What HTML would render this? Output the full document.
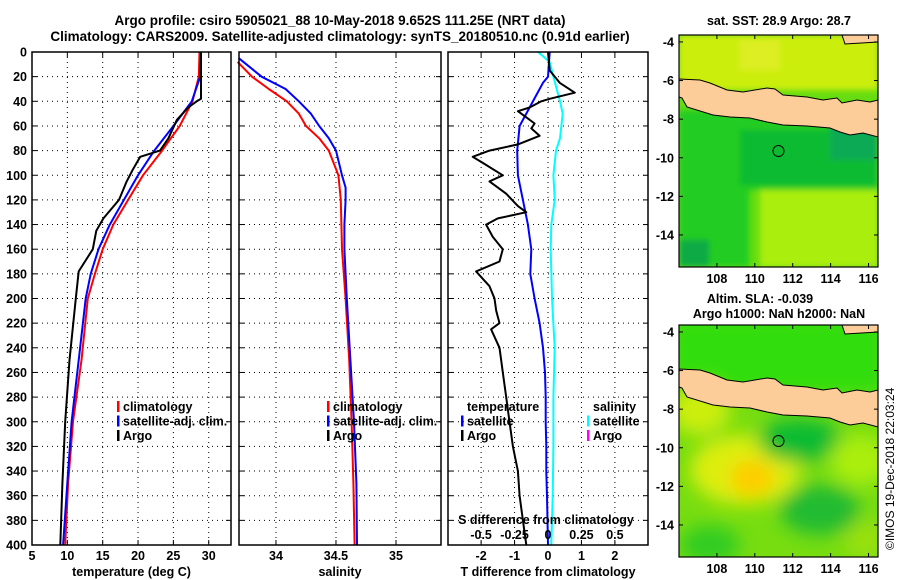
<!DOCTYPE html>
<html><head><meta charset="utf-8">
<style>
body{margin:0;background:#fff;}
svg{display:block;font-family:"Liberation Sans",sans-serif;font-weight:bold;}
text{font-size:12.5px;fill:#000;}
</style></head>
<body>
<svg id="fig" width="900" height="580" viewBox="0 0 900 580" xmlns="http://www.w3.org/2000/svg">
<defs>
<filter id="blur6" x="-20%" y="-20%" width="140%" height="140%"><feGaussianBlur stdDeviation="9"/></filter>
<filter id="blur2"><feGaussianBlur stdDeviation="3"/></filter>
<clipPath id="clipM1"><rect x="679" y="35" width="199" height="232"/></clipPath>
<clipPath id="clipM2"><rect x="679" y="325" width="199" height="232"/></clipPath>
</defs>
<text x="340" y="25" text-anchor="middle" style="font-size:13.5px">Argo profile: csiro 5905021_88 10-May-2018 9.652S 111.25E (NRT data)</text>
<text x="340" y="41" text-anchor="middle" style="font-size:13.5px">Climatology: CARS2009. Satellite-adjusted climatology: synTS_20180510.nc (0.91d earlier)</text>
<g id="panels"></g>
<g id="maps"></g>
<text transform="translate(894,550) rotate(-90)" style="font-size:12px;font-weight:normal">©IMOS 19-Dec-2018 22:03:24</text>
</svg>
<script>
// ---- data ----
const depthTicks = [0,20,40,60,80,100,120,140,160,180,200,220,240,260,280,300,320,340,360,380,400];
const tempTicks = [5,10,15,20,25,30];
const salTicks = [34,34.5,35];
const salTickLabels = ["34","34.5","35"];
const tdiffTicks = [-2,-1,0,1,2];
const sdiffTicks = [-0.5,-0.25,0,0.25,0.5];
const sdiffTickLabels = ["-0.5","-0.25","0","0.25","0.5"];

const climTempDepth = [0,20,40,60,80,100,120,140,160,180,200,250,300,350,400];
const climTemp = [28.7,28.6,27.7,25.9,23.4,20.7,18.6,16.5,15.0,13.9,12.9,12.0,10.8,10.1,9.7];
const satTempDepth = [0,20,40,60,80,100,120,140,160,180,200,250,300,350,400];
const satTemp = [28.9,28.8,27.6,25.0,22.3,20.0,18.0,16.0,14.4,13.3,12.6,11.6,10.6,10.0,9.4];
const argoTempDepth = [0,38,40,45,55,70,80,85,95,105,120,135,145,160,178,200,250,300,350,400];
const argoTemp = [28.9,28.9,28.3,27.1,25.5,24.3,23.1,20.3,19.3,18.4,17.3,15.1,14.1,13.6,11.6,11.2,10.3,9.7,9.3,9.0];

const climSalDepth = [8,20,30,40,50,60,70,80,90,100,120,160,200,250,300,350,400];
const climSal = [33.68,33.80,33.94,34.09,34.19,34.25,34.36,34.44,34.48,34.52,34.54,34.55,34.58,34.61,34.63,34.645,34.655];
const satSalDepth = [5,20,30,40,50,60,70,80,100,110,120,140,160,200,250,300,350,400];
const satSal = [33.69,33.88,34.08,34.19,34.29,34.36,34.44,34.50,34.55,34.58,34.58,34.57,34.57,34.59,34.62,34.65,34.67,34.675];

const satTdiffDepth = [0,20,25,35,50,60,80,100,120,140,160,180,200,220,240,260,280,300,320,340,360,400];
const satTdiff = [0.05,0,-0.15,-0.35,-0.65,-0.85,-0.92,-0.9,-0.75,-0.6,-0.5,-0.53,-0.4,-0.25,-0.15,-0.09,-0.07,-0.07,-0.05,-0.05,-0.03,0];
const argoTdiffDepth = [0,15,25,33,38,40,45,48,53,58,62,68,75,80,85,90,100,105,115,125,130,135,140,150,160,170,178,190,200,210,220,225,240,260,280,300,320,340,360,380,400];
const argoTdiff = [0,0.05,0.35,0.8,0.05,-0.2,-0.55,-0.9,-0.65,-0.4,-0.5,-0.25,-0.9,-1.75,-2.25,-1.95,-1.35,-1.75,-1.25,-0.9,-0.65,-1.5,-1.85,-1.65,-1.35,-1.45,-2.15,-1.75,-1.6,-1.55,-1.45,-1.7,-1.45,-1.35,-1.25,-1.15,-1.05,-0.9,-0.85,-0.75,-0.65];
const satSdiffDepth = [0,8,20,40,50,70,80,100,120,140,160,200,240,280,320,360,400];
const satSdiff = [-0.075,0.012,0.04,0.09,0.11,0.09,0.06,0.04,0.05,0.025,0.02,0.03,0.05,0.04,0.04,0.035,0.025];

const mapLonTicks = [108,110,112,114,116];
const mapLatTicks = [-4,-6,-8,-10,-12,-14];
const argoLon = 111.25, argoLat = -9.652;

// ---- helpers ----
const NS = "http://www.w3.org/2000/svg";
function el(tag, attrs, parent, txt){
  const e = document.createElementNS(NS, tag);
  for (const k in attrs) e.setAttribute(k, attrs[k]);
  if (txt !== undefined) e.textContent = txt;
  parent.appendChild(e);
  return e;
}
const TOP = 52, BOT = 545;
const yD = d => TOP + (BOT - TOP) * d / 400;
const panelsG = document.getElementById('panels');

function makePanel(name, x0, x1, vmin, vmax){
  const g = el('g', {}, panelsG);
  
  
  const sx = v => x0 + (v - vmin) / (vmax - vmin) * (x1 - x0);
  return {g, sx, x0, x1};
}
function grid(p, xt, ylabels){
  depthTicks.forEach(d => {
    const y = yD(d);
    if (d > 0 && d < 400) {
      const ln = el('line', {x1:p.x0, x2:p.x1, y1:y, y2:y, stroke:'#000', 'stroke-width':1, 'stroke-dasharray':'1,4'}, p.g);
      
      
    }
    el('line', {x1:p.x0, x2:p.x0+5, y1:y, y2:y, stroke:'#000'}, p.g);
    el('line', {x1:p.x1-5, x2:p.x1, y1:y, y2:y, stroke:'#000'}, p.g);
    if (ylabels) {
      const t = el('text', {x:27, y:y+4.5, 'text-anchor':'end'}, p.g, String(d));
      
      
    }
  });
  xt.forEach(v => {
    const x = p.sx(v);
    const ln = el('line', {x1:x, x2:x, y1:TOP, y2:BOT, stroke:'#000', 'stroke-width':1, 'stroke-dasharray':'1,4'}, p.g);
    
    
    el('line', {x1:x, x2:x, y1:BOT-5, y2:BOT, stroke:'#000'}, p.g);
    el('line', {x1:x, x2:x, y1:TOP, y2:TOP+5, stroke:'#000'}, p.g);
  });
}
function frame(p){
  const r = el('rect', {x:p.x0, y:TOP, width:p.x1-p.x0, height:BOT-TOP, fill:'none', stroke:'#000', 'stroke-width':1.5}, p.g);
  
  
}
function line(p, depths, vals, color, name, sx){
  const f = sx || p.sx;
  const pts = depths.map((d,i) => f(vals[i]).toFixed(1) + ',' + yD(d).toFixed(1)).join(' ');
  const pl = el('polyline', {points:pts, fill:'none', stroke:color, 'stroke-width':2, 'stroke-linejoin':'round'}, p.g);
  
  
}
function xlabels(p, ticks, labels, y, sx){
  const f = sx || p.sx;
  ticks.forEach((v,i) => {
    const t = el('text', {x:f(v), y:y, 'text-anchor':'middle'}, p.g, labels ? labels[i] : String(v));
    
    
  });
}
function legend(p, x, y, items){
  items.forEach((it, i) => {
    const yy = y + i * 14.5;
    if (it.c) {
      const m = el('rect', {x:x, y:yy-10, width:2.5, height:11, fill:it.c}, p.g);
      
      
    }
    const t = el('text', {x:x+(it.c?6:6), y:yy}, p.g, it.t);
    
    
  });
}
function title(p, txt){
  const t = el('text', {x:(p.x0+p.x1)/2, y:576, 'text-anchor':'middle'}, p.g, txt);
  
  
}

// Panel 1: temperature
const p1 = makePanel('temperature-panel', 32, 231, 5, 33.15);
grid(p1, tempTicks.slice(1), true);
line(p1, climTempDepth, climTemp, '#ff0000', 'climatology-temp-line');
line(p1, satTempDepth, satTemp, '#0000ff', 'satellite-temp-line');
line(p1, argoTempDepth, argoTemp, '#000000', 'argo-temp-line');
frame(p1);
xlabels(p1, tempTicks, null, 560);
title(p1, 'temperature (deg C)');
legend(p1, 117, 411, [{c:'#ff0000',t:'climatology'},{c:'#0000ff',t:'satellite-adj. clim.'},{c:'#000',t:'Argo'}]);

// Panel 2: salinity
const p2 = makePanel('salinity-panel', 239, 441, 33.692, 35.375);
grid(p2, salTicks, false);
line(p2, climSalDepth, climSal, '#ff0000', 'climatology-sal-line');
line(p2, satSalDepth, satSal, '#0000ff', 'satellite-sal-line');
frame(p2);
xlabels(p2, salTicks, salTickLabels, 560);
title(p2, 'salinity');
legend(p2, 327, 411, [{c:'#ff0000',t:'climatology'},{c:'#0000ff',t:'satellite-adj. clim.'},{c:'#000',t:'Argo'}]);

// Panel 3: differences
const p3 = makePanel('difference-panel', 448, 648, -2.99, 2.99);
const sxS = v => p3.sx(v * 4);
grid(p3, tdiffTicks, false);
line(p3, satSdiffDepth, satSdiff, '#00ffff', 'satellite-sal-diff-line', sxS);
line(p3, satTdiffDepth, satTdiff, '#0000ff', 'satellite-temp-diff-line');
line(p3, argoTdiffDepth, argoTdiff, '#000000', 'argo-temp-diff-line');
frame(p3);
xlabels(p3, tdiffTicks, null, 560);
xlabels(p3, sdiffTicks, sdiffTickLabels, 539, sxS);
title(p3, 'T difference from climatology');
{
  const t = el('text', {x:546, y:524, 'text-anchor':'middle'}, p3.g, 'S difference from climatology');
  
  
}
legend(p3, 461, 411, [{c:null,t:'temperature'},{c:'#0000ff',t:'satellite'},{c:'#000',t:'Argo'}]);
legend(p3, 587, 411, [{c:null,t:'salinity'},{c:'#00ffff',t:'satellite'},{c:'#ff00ff',t:'Argo'}]);

// ---- maps ----
const mapsG = document.getElementById('maps');
const javaPts = [[679,79],[700,80],[710,83],[727,90],[743,92],[767,88],[775,89],[783,95],[807,97],[823,100],[837,98],[842,103],[857,100],[870,102],[878,100],[878,137],[863,133],[850,135],[840,132],[830,128],[807,126],[783,125],[767,122],[750,118],[730,117],[713,115],[687,107],[682,98],[679,97]];
function makeMap(name, oy, titleLines){
  const g = el('g', {}, mapsG);
  
  
  const x0 = 679, x1 = 878, y0 = oy, y1 = oy + 232;
  const sx = lon => x0 + (lon - 106.0) / (116.5 - 106.0) * (x1 - x0);
  const sy = lat => y0 + (-3.64 - lat) / (15.66 - 3.64) * (y1 - y0);
  return {g, x0, x1, y0, y1, sx, sy, oy};
}
function mapAxes(m, titleLines){
  const r = el('rect', {x:m.x0, y:m.y0, width:m.x1-m.x0, height:m.y1-m.y0, fill:'none', stroke:'#000', 'stroke-width':1.2}, m.g);
  
  
  mapLatTicks.forEach(la => {
    const y = m.sy(la);
    el('line', {x1:m.x0, x2:m.x0+4, y1:y, y2:y, stroke:'#000'}, m.g);
    el('line', {x1:m.x1-4, x2:m.x1, y1:y, y2:y, stroke:'#000'}, m.g);
    const t = el('text', {x:m.x0-5, y:y+4.5, 'text-anchor':'end'}, m.g, String(la));
    
    
  });
  mapLonTicks.forEach(lo => {
    const x = m.sx(lo);
    el('line', {x1:x, x2:x, y1:m.y1-4, y2:m.y1, stroke:'#000'}, m.g);
    el('line', {x1:x, x2:x, y1:m.y0, y2:m.y0+4, stroke:'#000'}, m.g);
    const t = el('text', {x:x, y:m.y1+16, 'text-anchor':'middle'}, m.g, String(lo));
    
    
  });
  titleLines.forEach((tl, i) => {
    const t = el('text', {x:tl[1], y:tl[2], 'text-anchor':'middle'}, m.g, tl[0]);
    
    
  });
  const c = el('circle', {cx:m.sx(argoLon), cy:m.sy(argoLat), r:5.5, fill:'none', stroke:'#000', 'stroke-width':1}, m.g);
  
  
}
function land(m){
  const dy = m.oy - 35;
  const pts = javaPts.map(p => p[0] + ',' + (p[1] + dy)).join(' ');
  const pg = el('polygon', {points:pts, fill:'#fccc99', stroke:'#000', 'stroke-width':1}, m.g);
  
  
  const pg2 = el('polygon', {points:`842,${35+dy} 878,${35+dy} 878,${42+dy} 845,${44+dy}`, fill:'#fccc99', stroke:'#000', 'stroke-width':1}, m.g);
  
  
}

// Map 1: SST
const m1 = makeMap('sst-map', 35);
{
  const cg = el('g', {'clip-path':'url(#clipM1)'}, m1.g);
  el('rect', {x:679, y:35, width:199, height:232, fill:'#66dd11'}, cg);
  const fg = el('g', {filter:'url(#blur2)'}, cg);
  el('rect', {x:679, y:35, width:199, height:55, fill:'#ccee11'}, fg);
  el('rect', {x:740, y:40, width:40, height:30, fill:'#ddee22'}, fg);
  el('rect', {x:679, y:110, width:199, height:80, fill:'#22cc22'}, fg);
  el('rect', {x:740, y:130, width:138, height:55, fill:'#11bb33'}, fg);
  el('rect', {x:830, y:125, width:48, height:35, fill:'#11aa55'}, fg);
  el('rect', {x:679, y:190, width:70, height:77, fill:'#22cc22'}, fg);
  el('rect', {x:760, y:190, width:118, height:77, fill:'#aaee11'}, fg);
  el('rect', {x:679, y:240, width:30, height:27, fill:'#11aa44'}, fg);
  land(m1);
  const c = el('g', {}, m1.g);
}
mapAxes(m1, [['sat. SST: 28.9 Argo: 28.7', 779, 25]]);

// Map 2: altimetry
const m2 = makeMap('altimetry-map', 325);
{
  const cg = el('g', {'clip-path':'url(#clipM2)'}, m2.g);
  el('rect', {x:679, y:325, width:199, height:232, fill:'#77dd11'}, cg);
  const fg = el('g', {filter:'url(#blur6)'}, cg);
  el('rect', {x:670, y:315, width:220, height:80, fill:'#33dd11'}, fg);
  el('ellipse', {cx:700, cy:410, rx:30, ry:25, fill:'#ccee11'}, fg);
  el('ellipse', {cx:745, cy:470, rx:55, ry:35, fill:'#ddee11'}, fg);
  el('ellipse', {cx:752, cy:478, rx:22, ry:18, fill:'#ffcc00'}, fg);
  el('ellipse', {cx:800, cy:440, rx:42, ry:22, fill:'#11bb33'}, fg);
  el('ellipse', {cx:860, cy:460, rx:30, ry:25, fill:'#aaee11'}, fg);
  el('ellipse', {cx:820, cy:510, rx:40, ry:25, fill:'#22bb33'}, fg);
  el('ellipse', {cx:710, cy:545, rx:30, ry:20, fill:'#33cc22'}, fg);
  el('ellipse', {cx:865, cy:540, rx:20, ry:20, fill:'#99e011'}, fg);
  land(m2);
}
mapAxes(m2, [['Altim. SLA: -0.039', 760, 303], ['Argo h1000: NaN h2000: NaN', 779, 318]]);
</script>
</body></html>
